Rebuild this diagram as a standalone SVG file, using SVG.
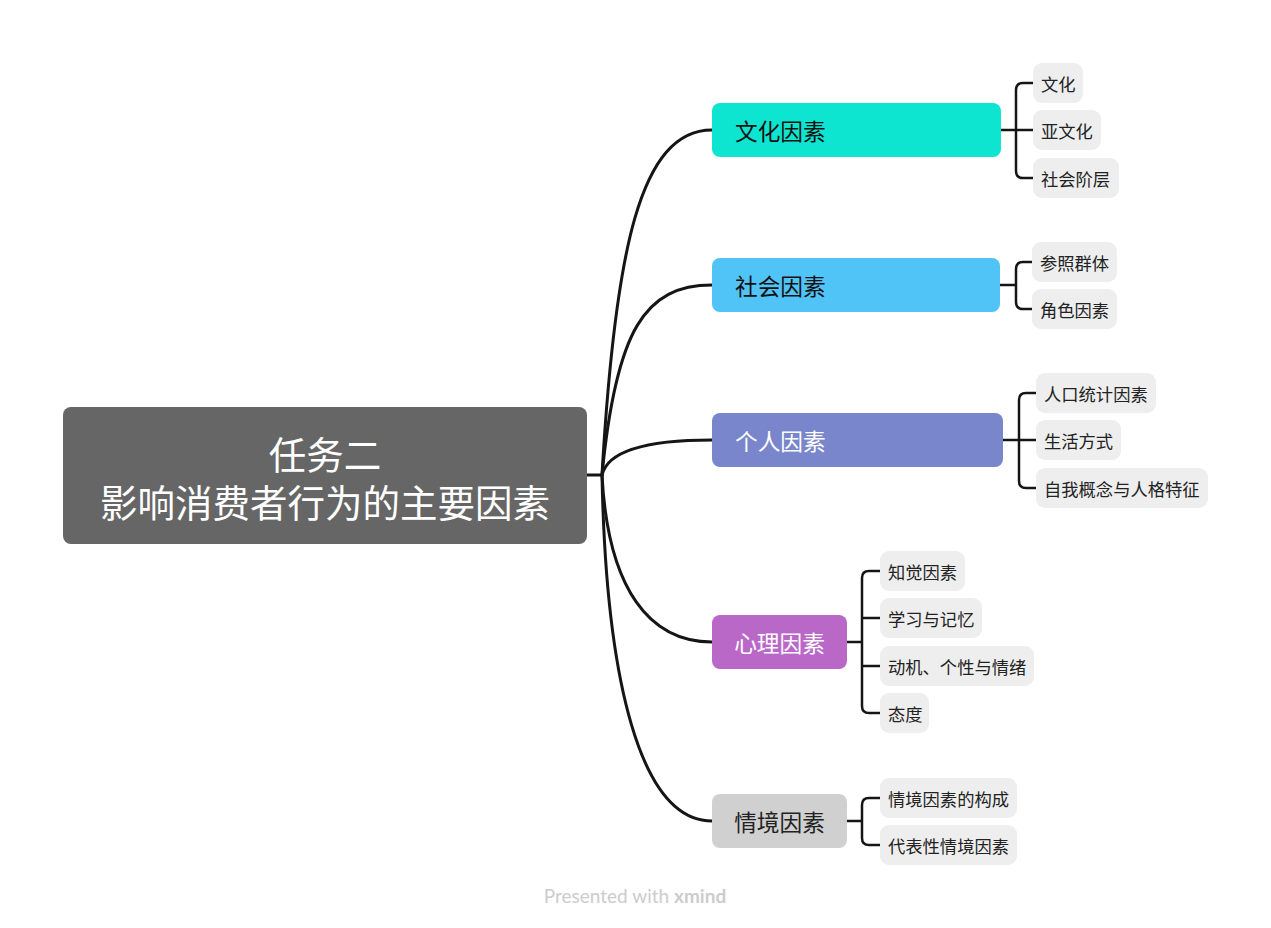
<svg xmlns="http://www.w3.org/2000/svg" width="1271" height="928" viewBox="0 0 1271 928">
<style>
.t{font-family:"Noto Sans CJK SC","Noto Sans",sans-serif;dominant-baseline:central}
.main{font-size:22.7px}
.sub{font-size:17.3px;fill:#222}
.leaf rect{fill:#eeeeee}
.c{fill:none;stroke:#151515;stroke-width:3;stroke-linecap:round}
.b{fill:none;stroke:#151515;stroke-width:2.5;stroke-linecap:round}
</style>
<rect width="1271" height="928" fill="#ffffff"/>
<g id="connectors">
<path class="c" d="M587,475 H602"/>
<path class="c" d="M602,475 C615,250 640,130 712,130"/>
<path class="c" d="M602,475 C616,330 645,285 712,285"/>
<path class="c" d="M602,475 C608,450 650,440 712,440"/>
<path class="c" d="M602,475 C608,590 650,642 712,642"/>
<path class="c" d="M602,475 C606,680 640,821 712,821"/>
<path class="b" d="M1001,130 H1033 M1033,83 H1023 Q1016,83 1016,90 V171 Q1016,178 1023,178 H1033"/>
<path class="b" d="M1000,285 H1016 M1032,262 H1023 Q1016,262 1016,269 V302 Q1016,309 1023,309 H1032"/>
<path class="b" d="M1003,440 H1036 M1036,393 H1026 Q1019,393 1019,400 V481 Q1019,488 1026,488 H1036"/>
<path class="b" d="M847,642 H862 M880,571 H869 Q862,571 862,578 V706 Q862,713 869,713 H880 M862,618 H880 M862,666 H880"/>
<path class="b" d="M847,821 H862 M880,798 H869 Q862,798 862,805 V838 Q862,845 869,845 H880"/>
</g>
<g id="root">
<rect x="63" y="407" width="524" height="137" rx="8" fill="#666666"/>
<text class="t" x="325" y="452" font-size="37.5" fill="#ffffff" text-anchor="middle">任务二</text>
<text class="t" x="325" y="500" font-size="37.5" fill="#ffffff" text-anchor="middle">影响消费者行为的主要因素</text>
</g>
<g id="n-wenhua"><rect x="712" y="103" width="289" height="54" rx="8" fill="#0de5d0"/><text class="t main" x="735" y="130" fill="#111">文化因素</text></g>
<g id="n-shehui"><rect x="712" y="258" width="288" height="54" rx="8" fill="#50c3f7"/><text class="t main" x="735" y="285" fill="#111">社会因素</text></g>
<g id="n-geren"><rect x="712" y="413" width="291" height="54" rx="8" fill="#7986cb"/><text class="t main" x="735" y="440" fill="#ffffff">个人因素</text></g>
<g id="n-xinli"><rect x="712" y="615" width="135" height="54" rx="8" fill="#ba68c8"/><text class="t main" x="779.5" y="642" fill="#ffffff" text-anchor="middle">心理因素</text></g>
<g id="n-qingjing"><rect x="712" y="794" width="135" height="54" rx="8" fill="#d0d0d0"/><text class="t main" x="779.5" y="821" fill="#222" text-anchor="middle">情境因素</text></g>
<g id="c1" class="leaf"><rect x="1033" y="63" width="50" height="40" rx="9"/><text class="t sub" x="1041" y="83">文化</text></g>
<g id="c2" class="leaf"><rect x="1033" y="110" width="68" height="40" rx="9"/><text class="t sub" x="1041" y="130">亚文化</text></g>
<g id="c3" class="leaf"><rect x="1033" y="158" width="86" height="40" rx="9"/><text class="t sub" x="1041" y="178">社会阶层</text></g>
<g id="c4" class="leaf"><rect x="1032" y="242" width="85" height="40" rx="9"/><text class="t sub" x="1040" y="262">参照群体</text></g>
<g id="c5" class="leaf"><rect x="1032" y="289" width="85" height="40" rx="9"/><text class="t sub" x="1040" y="309">角色因素</text></g>
<g id="c6" class="leaf"><rect x="1036" y="373" width="120" height="40" rx="9"/><text class="t sub" x="1044" y="393">人口统计因素</text></g>
<g id="c7" class="leaf"><rect x="1036" y="420" width="85" height="40" rx="9"/><text class="t sub" x="1044" y="440">生活方式</text></g>
<g id="c8" class="leaf"><rect x="1036" y="468" width="172" height="40" rx="9"/><text class="t sub" x="1044" y="488">自我概念与人格特征</text></g>
<g id="c9" class="leaf"><rect x="880" y="551" width="85" height="40" rx="9"/><text class="t sub" x="888" y="571">知觉因素</text></g>
<g id="c10" class="leaf"><rect x="880" y="598" width="102" height="40" rx="9"/><text class="t sub" x="888" y="618">学习与记忆</text></g>
<g id="c11" class="leaf"><rect x="880" y="646" width="154" height="40" rx="9"/><text class="t sub" x="888" y="666">动机、个性与情绪</text></g>
<g id="c12" class="leaf"><rect x="880" y="693" width="49" height="40" rx="9"/><text class="t sub" x="888" y="713">态度</text></g>
<g id="c13" class="leaf"><rect x="880" y="778" width="137" height="40" rx="9"/><text class="t sub" x="888" y="798">情境因素的构成</text></g>
<g id="c14" class="leaf"><rect x="880" y="825" width="137" height="40" rx="9"/><text class="t sub" x="888" y="845">代表性情境因素</text></g>
<text x="635" y="903" font-family="Lato,'Open Sans',sans-serif" font-size="19" fill="#cccccc" text-anchor="middle">Presented with <tspan font-weight="bold">xmind</tspan></text>
</svg>
